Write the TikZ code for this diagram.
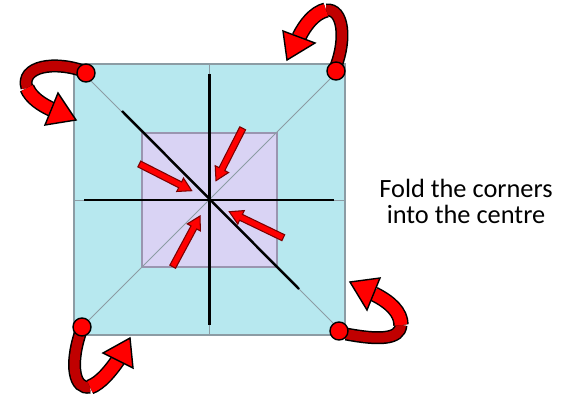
\documentclass[tikz,border=0pt]{standalone}
\usepackage{fontspec}
\setmainfont{Carlito}
\usetikzlibrary{calc}
\definecolor{outerfill}{HTML}{B7E8EF}
\definecolor{innerfill}{HTML}{D9D3F4}
\definecolor{edgegray}{HTML}{8C9CA4}
\definecolor{innergray}{HTML}{9A95B0}
\definecolor{arrred}{HTML}{FF0000}
\definecolor{arrdark}{HTML}{C00000}
\definecolor{arredge}{HTML}{7A0000}
\tikzset{
  thinline/.style={draw=edgegray, line width=0.5pt},
  foldline/.style={draw=black, line width=1.4pt},
  corner/.style={circle, fill=arrred, draw=black, line width=0.8pt, minimum size=0.36cm, inner sep=0pt},
  bandout/.style={draw=black, line width=0.26cm},
  bandoutw/.style={draw=black, line width=0.31cm},
  banddark/.style={draw=arrdark, line width=0.2cm},
  bandlight/.style={draw=arrred, line width=0.25cm},
  headshape/.style={fill=arrred, draw=black, line width=0.8pt, line join=miter},
  fatarrow/.style={fill=arrred, draw=arredge, line width=0.6pt, line join=miter},
  label/.style={font=\fontsize{15}{14.8}\selectfont, align=center, inner sep=0pt}
}
\newcommand{\fatarr}[2]{%
  \coordinate (hb) at ($(#2)!0.26cm!(#1)$);
  \path[fatarrow] ($(#1)!0.065cm!90:(#2)$) -- ($(hb)!0.065cm!-90:(#1)$) -- ($(hb)!0.15cm!-90:(#1)$) -- (#2)
     -- ($(hb)!0.15cm!90:(#1)$) -- ($(hb)!0.065cm!90:(#1)$) -- ($(#1)!0.065cm!-90:(#2)$) -- cycle;
}
\begin{document}
\begin{tikzpicture}[x=0.02cm,y=-0.02cm]
\useasboundingbox (0,0) rectangle (575,395);
% squares
\coordinate (O1) at (74,64); \coordinate (O2) at (345,64);
\coordinate (O3) at (345,335); \coordinate (O4) at (74,335);
\coordinate (C) at (209.5,199.5);
\path[fill=outerfill, draw=edgegray, line width=0.8pt] (O1) rectangle (O3);
\path[fill=innerfill, draw=innergray, line width=0.8pt] (142,133) rectangle (277,267);
% thin guide lines
\draw[thinline] (O1) -- (O3);
\draw[thinline] (O2) -- (O4);
\draw[thinline] (209.5,64) -- (209.5,335);
\draw[thinline] (74,200) -- (345,200);
% fold lines
\draw[foldline] (209.5,74) -- (209.5,325);
\draw[foldline] (84,200) -- (334,200);
\draw[foldline] (122,111) -- (299,289);
% straight arrows
\coordinate (t1) at (242.7,128.3); \coordinate (h1) at (216,180.7);
\coordinate (t2) at (139.3,164); \coordinate (h2) at (191.7,190.7);
\coordinate (t3) at (283.3,237.7); \coordinate (h3) at (229.3,211.7);
\coordinate (t4) at (172.7,266.7); \coordinate (h4) at (200,216);
\fatarr{t1}{h1}
\fatarr{t2}{h2}
\fatarr{t3}{h3}
\fatarr{t4}{h4}
% curved arrows: top-left
\draw[bandout] (86,72) .. controls (55,60) and (20,66) .. (27,88);
\draw[banddark] (86,72) .. controls (55,60) and (20,66) .. (27,88);
\draw[bandoutw] (27,88) .. controls (31,98) and (42,105) .. (53,110);
\draw[bandlight] (27,88) .. controls (31,98) and (42,105) .. (53,110);
\path[headshape] (58,93) -- (76,120) -- (45,125) -- cycle;
% top-right
\draw[bandout] (336,66) .. controls (346,40) and (344,8) .. (326,10);
\draw[banddark] (336,66) .. controls (346,40) and (344,8) .. (326,10);
\draw[bandoutw] (326,10) .. controls (314,13) and (305,25) .. (299,37);
\draw[bandlight] (326,10) .. controls (314,13) and (305,25) .. (299,37);
\path[headshape] (283,31) -- (287,60) -- (315,43) -- cycle;
% bottom-left
\draw[bandout] (80,334) .. controls (70,365) and (74,390) .. (90,387);
\draw[banddark] (80,334) .. controls (70,365) and (74,390) .. (90,387);
\draw[bandoutw] (90,387) .. controls (101,383) and (111,370) .. (118,360);
\draw[bandlight] (90,387) .. controls (101,383) and (111,370) .. (118,360);
\path[headshape] (103,353) -- (130,338) -- (133,368) -- cycle;
% bottom-right
\draw[bandout] (346,334) .. controls (378,340) and (400,340) .. (401,325);
\draw[banddark] (346,334) .. controls (378,340) and (400,340) .. (401,325);
\draw[bandoutw] (401,325) .. controls (401,312) and (390,302) .. (374,294);
\draw[bandlight] (401,325) .. controls (401,312) and (390,302) .. (374,294);
\path[headshape] (380,278) -- (350,282) -- (367,310) -- cycle;
% corner dots
\node[corner] (k1) at (86,73) {};
\node[corner] (k2) at (336,71) {};
\node[corner] (k3) at (82,327) {};
\node[corner] (k4) at (339,331) {};
% label
\node[label] (lab) at (466,201) {Fold the corners\\into the centre};
\end{tikzpicture}
\end{document}
